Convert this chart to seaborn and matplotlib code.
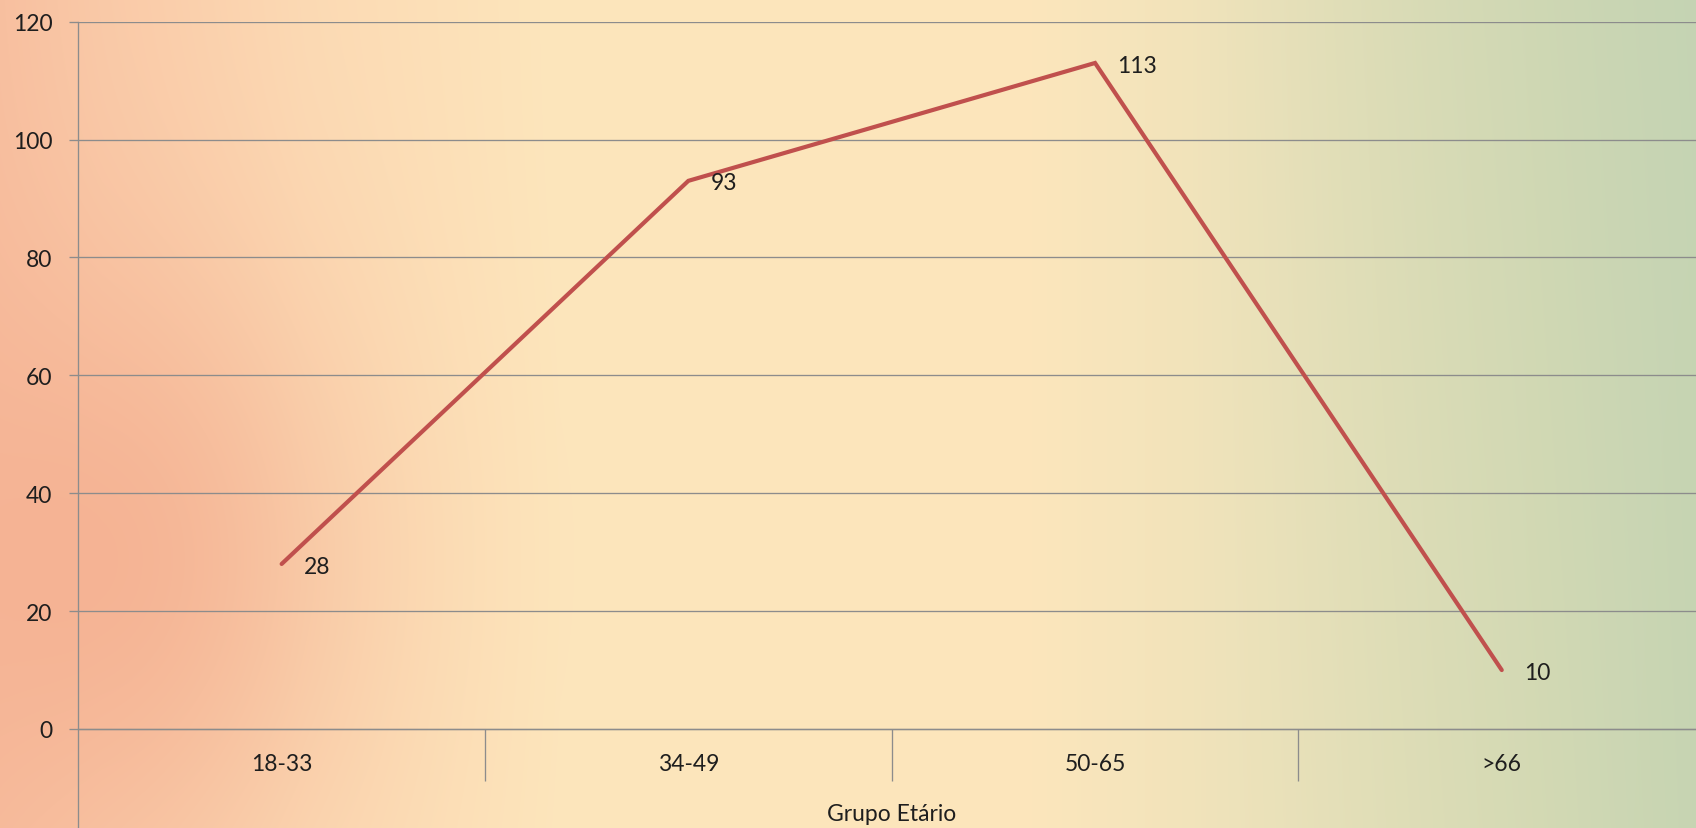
import numpy as np
import matplotlib
matplotlib.use("Agg")
import matplotlib.pyplot as plt
import seaborn as sns
import pandas as pd

# ---- data ----
categories = ["18-33", "34-49", "50-65", ">66"]
values = [28, 93, 113, 10]
y_ticks = [0, 20, 40, 60, 80, 100, 120]
x_title = "Grupo Etário"

sns.set_theme(style="white")
plt.rcParams['font.family'] = ['Lato', 'DejaVu Sans']

W, H = 1696, 829
fig = plt.figure(figsize=(W / 100, H / 100), dpi=100)

# ---- background gradient ----
xs = np.linspace(0, 1, W)
stops_x = [0.0, 0.06, 0.18, 0.33, 0.6, 0.75, 0.9, 1.0]
stops_c = np.array([
    (248, 192, 160),
    (250, 202, 168),
    (252, 218, 180),
    (253, 230, 188),
    (253, 230, 188),
    (236, 226, 186),
    (216, 219, 180),
    (200, 213, 178),
]) / 255.0
base = np.stack([np.interp(xs, stops_x, stops_c[:, i]) for i in range(3)], axis=-1)
img = np.repeat(base[None, :, :], H, axis=0)
X, Y = np.meshgrid(np.arange(W), np.arange(H))
blob = np.exp(-(((X - 110) / 240.0) ** 2 + ((Y - 560) / 300.0) ** 2))
blob_c = np.array([243, 170, 140]) / 255.0
img = img * (1 - 0.7 * blob[..., None]) + blob_c * 0.7 * blob[..., None]
g = np.clip((X / W - 0.7) / 0.3, 0, 1) * (1 - 0.6 * Y / H)
green = np.array([195, 211, 180]) / 255.0
img = img * (1 - 0.6 * g[..., None]) + green * 0.6 * g[..., None]
bg = fig.add_axes([0, 0, 1, 1], zorder=0)
bg.imshow(np.clip(img, 0, 1), aspect='auto', interpolation='bilinear')
bg.axis('off')

# ---- main axes ----
x_left = 78.3
cat_w = 406.7
top_px = 22.7
zero_px = 730.0
ppu = (zero_px - top_px) / 120.0
ax = fig.add_axes([x_left / W, 0, 4 * cat_w / W, (H - top_px) / H], zorder=1)
ax.patch.set_alpha(0)

df = pd.DataFrame({"Grupo": categories, "Valor": values})
sns.lineplot(data=df, x="Grupo", y="Valor", sort=False, color="#C0504D",
             linewidth=3.0, ax=ax, solid_joinstyle="miter", solid_capstyle="round")

grid_c = "#8C8C8C"
text_c = "#1E1E1E"
fs = 16.5

ax.set_xlim(-0.5, 3.5)
ax.set_ylim(-(H - zero_px) / ppu, 120)
ax.set_yticks(y_ticks)
ax.set_yticklabels([str(t) for t in y_ticks])
ax.yaxis.grid(True, color=grid_c, linewidth=0.95)
ax.set_axisbelow(True)

for s in ["top", "right"]:
    ax.spines[s].set_visible(False)
ax.spines["left"].set_color(grid_c)
ax.spines["left"].set_linewidth(0.95)
ax.spines["bottom"].set_position(("data", 0))
ax.spines["bottom"].set_color(grid_c)
ax.spines["bottom"].set_linewidth(0.95)

ax.set_xticks(range(len(categories)))
ax.set_xticklabels(categories)
ax.set_xticks([0.5, 1.5, 2.5, 3.5], minor=True)
ax.tick_params(axis="x", which="major", bottom=True, length=0, pad=17, labelsize=fs, labelcolor=text_c)
ax.tick_params(axis="x", which="minor", bottom=True, length=37.4, width=0.95, color=grid_c, direction="out")
ax.tick_params(axis="y", which="major", length=6.5, width=0.95, color=grid_c, direction="out",
               pad=12, labelsize=fs, labelcolor=text_c, left=True)

ax.set_ylabel("")
ax.set_xlabel(x_title, fontsize=fs, color=text_c, va="center")
ax.xaxis.set_label_coords(0.5, 14 / (H - top_px))

for i, v in enumerate(values):
    ax.annotate(str(v), (i, v), xytext=(16, -1.5), textcoords="offset points",
                ha="left", va="center", fontsize=fs, color=text_c)

fig.savefig("out.png", dpi=100)
